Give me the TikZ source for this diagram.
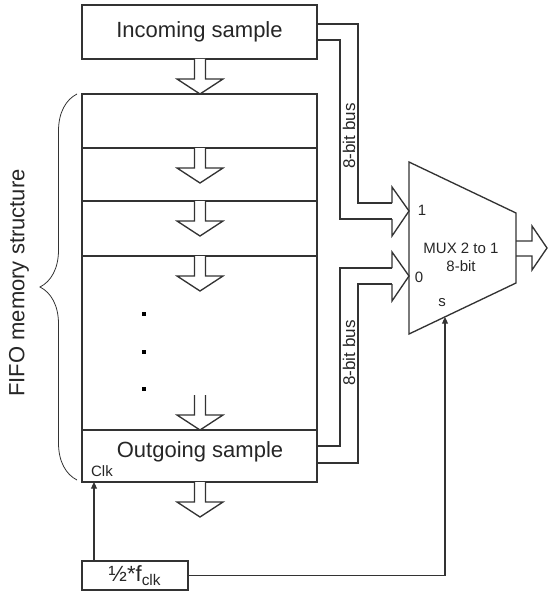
\documentclass[tikz,border=0pt]{standalone}
\usepackage{fontspec}
\setmainfont{Liberation Sans}
\usepackage{tikz}
\usetikzlibrary{arrows.meta,decorations.pathreplacing}

\begin{document}
\begin{tikzpicture}[x=0.75pt,y=-0.75pt,line width=1pt,draw=black!80]
        \tikzstyle{every node}=[font=\fontsize{16.5}{18}\selectfont,text=black!85]
        \tikzset{cell/.style = {shape=rectangle,draw,minimum width=176.25pt,inner sep=0pt}}
        \tikzset{small/.style = {font=\fontsize{11.25}{13.5}\selectfont,inner sep=0pt}}
        \tikzset{bus/.style = {font=\fontsize{12.75}{14}\selectfont,rotate=90,inner sep=0pt}}
        \tikzset{edge/.style = {line width=0.8pt,-{Triangle[length=5pt,width=4.5pt]}}}
        \tikzset{flow/.pic = {\draw[fill=white] (-5.5,0) -- (-5.5,20) -- (-23,20) -- (0,35) -- (23,20) -- (5.5,20) -- (5.5,0);}}
        \tikzset{busin/.pic = {\draw (0,-8) -- (0,-24) -- (17,0) -- (0,25) -- (0,8);}}
        \useasboundingbox (0,0) rectangle (548,592);
        % fifo
        \node[cell,minimum height=40.5pt] (inbox) at (199.5,32) {Incoming sample};
        \node[cell,minimum height=40.5pt] (cell1) at (199.5,121) {};
        \node[cell,minimum height=39.75pt] (cell2) at (199.5,174.5) {};
        \node[cell,minimum height=41.25pt] (cell3) at (199.5,228.5) {};
        \node[cell,minimum height=130.5pt] (cell4) at (199.5,343) {};
        \node[cell,minimum height=39pt] (outbox) at (199.5,456) {};
        \node (outtext) at (200,452) {Outgoing sample};
        \node[small] (clk) at (102,471) {Clk};
        \foreach \y in {59,148,201,256,395,482}
          \pic at (200,\y) {flow};
        \foreach \y in {314,352,389}
          \fill[black] (142,\y) ++(0,-2) rectangle ++(4,4);
        \node[rotate=90] (fifo) at (19,283) {FIFO memory structure};
        \draw[decorate,decoration={brace,amplitude=27.75pt},line width=0.6pt] (77,480) -- (77,94);
        % mux
        \coordinate (m1) at (409,162);
        \coordinate (m2) at (516,213);
        \coordinate (m3) at (516,283);
        \coordinate (m4) at (409,334);
        \draw (m1) -- (m2) -- (m3) -- (m4) -- cycle;
        \node[small,align=center] (muxlab) at (461,257) {MUX 2 to 1\\8-bit};
        \node[small] (in1) at (422,210) {1};
        \node[small] (in0) at (419,277) {0};
        \node[small] (sel) at (442,303) {s};
        \pic at (392,211) {busin};
        \pic at (392,276) {busin};
        \draw (516,241) -- (532,241) -- (532,226) -- (547,248) -- (532,270) -- (532,256) -- (516,256);
        % buses
        \coordinate (inA) at (317,24);
        \coordinate (inB) at (317,40);
        \coordinate (outA) at (317,446);
        \coordinate (outB) at (317,463);
        \coordinate (mux1a) at (392,203);
        \coordinate (mux1b) at (392,219);
        \coordinate (mux0a) at (392,268);
        \coordinate (mux0b) at (392,284);
        \draw (inA) -- ++(41,0) |- (mux1a);
        \draw (inB) -- ++(23,0) |- (mux1b);
        \draw (outA) -- ++(23,0) |- (mux0a);
        \draw (outB) -- ++(41,0) |- (mux0b);
        \node[bus] (bus1) at (349,136) {8-bit bus};
        \node[bus] (bus0) at (349,353) {8-bit bus};
        % clock
        \node[draw,minimum width=79.5pt,minimum height=21.75pt,inner sep=0pt] (fclk) at (135,575.5) {½*f\textsubscript{clk}};
        \coordinate (ck) at (94,482);
        \coordinate (sl) at (445,317);
        \draw[edge] (fclk.north -| ck) -- (ck);
        \draw[edge] (fclk.east) -| (sl);
      \end{tikzpicture}
\end{document}
